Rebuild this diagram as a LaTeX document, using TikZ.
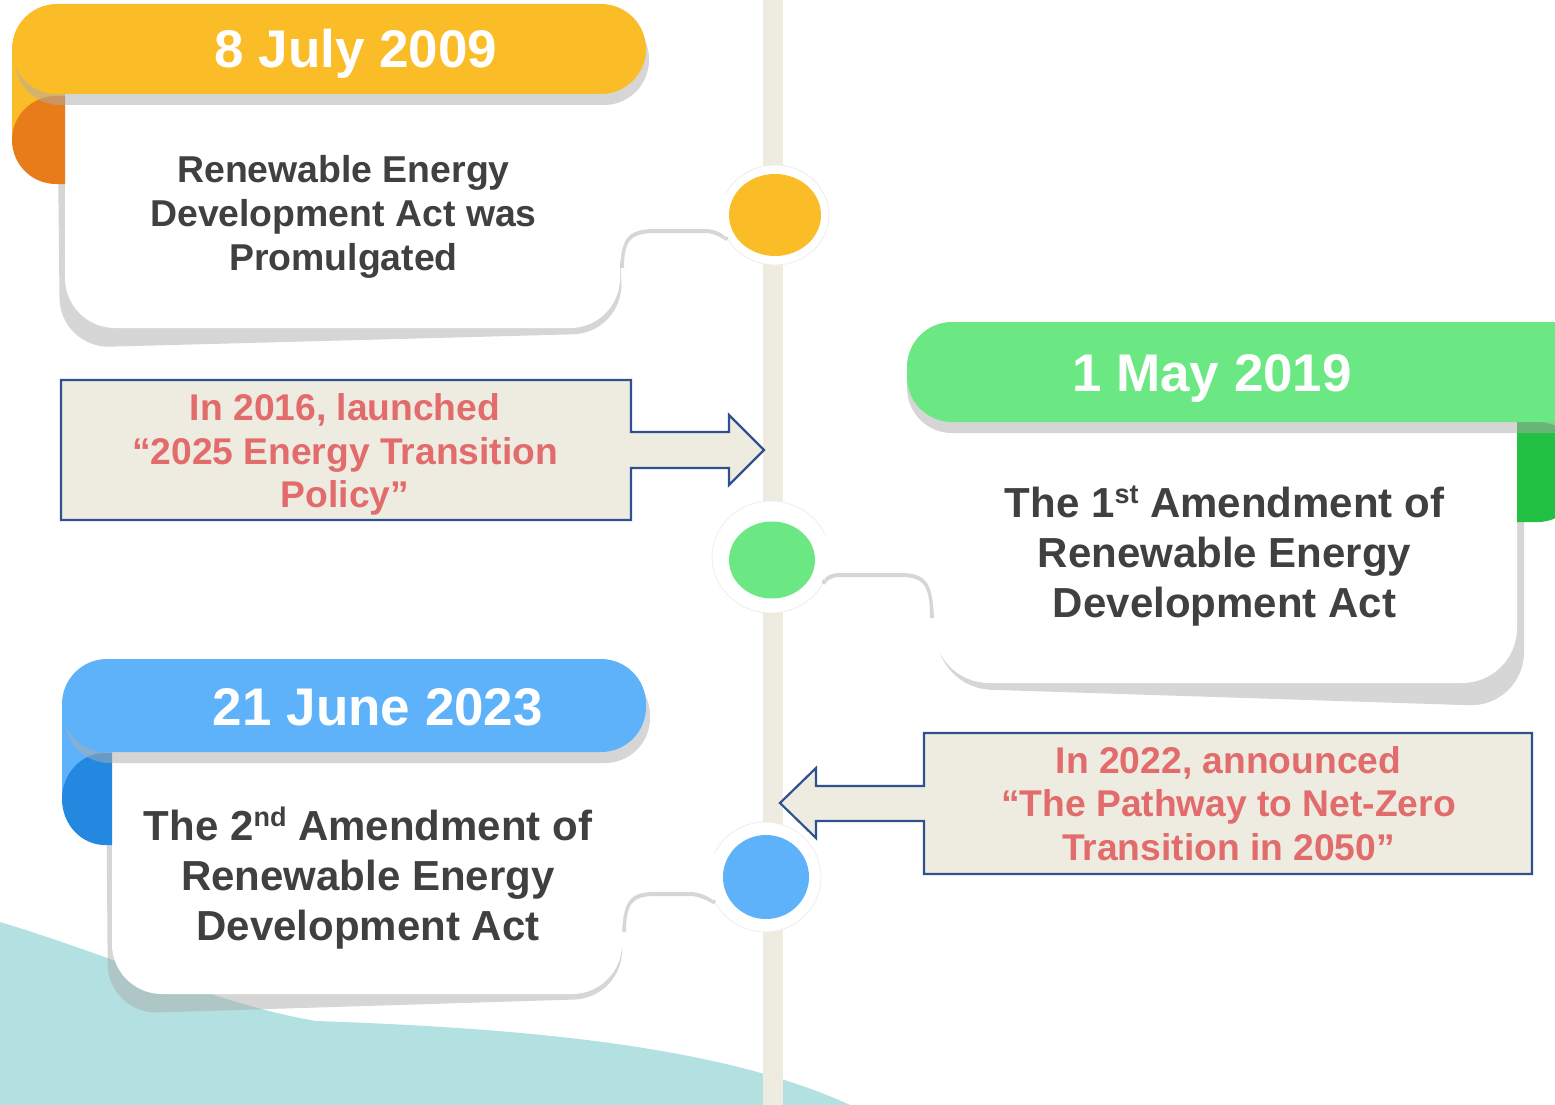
\documentclass[tikz,border=0pt]{standalone}
\usepackage{fontspec}
\setmainfont{Liberation Sans}
\usetikzlibrary{shapes.geometric}
\definecolor{julyyellow}{RGB}{251,189,39}
\definecolor{julyorange}{RGB}{233,124,26}
\definecolor{maygreen}{RGB}{107,232,131}
\definecolor{maydark}{RGB}{34,193,68}
\definecolor{juneblue}{RGB}{94,178,250}
\definecolor{junedark}{RGB}{36,136,224}
\definecolor{timeline}{RGB}{238,235,225}
\definecolor{wave}{RGB}{179,224,224}
\definecolor{shadowgrey}{RGB}{173,173,173}
\definecolor{cardgrey}{RGB}{64,64,64}
\definecolor{callfill}{RGB}{238,235,225}
\definecolor{callline}{RGB}{47,82,143}
\definecolor{callred}{RGB}{226,107,107}
\newcommand\sups[1]{\raisebox{0.33em}{\fontsize{27}{27}\selectfont #1}}
\begin{document}
\begin{tikzpicture}[x=1pt, y=-1pt,
    shade/.style={fill=shadowgrey, fill opacity=0.5},
    neckline/.style={draw=shadowgrey, draw opacity=0.5, line width=4pt},
    halo/.style={ellipse, fill=white, draw=black!7, line width=0.8pt, inner sep=0pt},
    dot/.style={ellipse, inner sep=0pt},
    datetext/.style={text=white, anchor=base, inner sep=0pt, font=\bfseries\fontsize{53}{60}\selectfont},
    cardtext/.style n args={2}{text=cardgrey, align=center, inner sep=0pt, font=\bfseries\fontsize{#1}{#2}\selectfont},
    callbox/.style={fill=callfill, draw=callline, line width=2.2pt, line join=miter},
    calltext/.style={text=callred, align=center, inner sep=0pt, font=\bfseries\fontsize{37.2}{43.5}\selectfont}]
    \useasboundingbox (0,0) rectangle (1555,1105);
    \clip (0,0) rectangle (1555,1105);
    \fill[wave] (0,922) .. controls (110,955) and (220,1005) .. (316,1021)
        .. controls (520,1028) and (720,1045) .. (850,1105) -- (0,1105) -- cycle;
    \fill[timeline] (763,0) rectangle (783,1105);

    \draw[callbox] (61,380) -- (631,380) -- (631,432) -- (729,432) -- (729,415) -- (764,450)
        -- (729,485) -- (729,468) -- (631,468) -- (631,520) -- (61,520) -- cycle;
    \draw[callbox] (924,733) -- (1532,733) -- (1532,874) -- (924,874) -- (924,821) -- (816,821)
        -- (816,838) -- (780,803) -- (816,768) -- (816,786) -- (924,786) -- cycle;

    \fill[shade, rounded corners=50] (57,60) -- (60,348) -- (623,333) -- (614,60) -- cycle;
    \fill[white, rounded corners=50] (65,40) rectangle (620,328);
    \node[halo, minimum width=108, minimum height=100] (h1) at (775,215) {};
    \draw[neckline] (h1.207) .. controls (722,236) and (715,231) .. (705,231) -- (655,231)
        .. controls (628,231) and (622,241) .. (622,268);
    \fill[white] (600,140) -- (620,140) .. controls (620,190) and (628,200) .. (655,200) -- (705,200)
        .. controls (715,200) and (722,195) .. (h1.155) -- (h1.205) .. controls (722,233) and (715,228) .. (705,228)
        -- (655,228) .. controls (628,228) and (620,238) .. (620,275) -- (600,275) -- cycle;
    \node[dot, fill=julyyellow, minimum width=92, minimum height=82] (d1) at (775,215) {};
    \fill[julyyellow] (12,50) rectangle (65,140);
    \fill[julyorange] (65,96) -- (56,96) arc[start angle=270, end angle=90, x radius=44, y radius=44] -- (65,184) -- cycle;
    \fill[shade, rounded corners=45] (15,14) rectangle (649,105);
    \fill[julyyellow, rounded corners=45] (12,4) rectangle (646,94);

    \fill[shade, rounded corners=55] (938,380) -- (936,688) -- (1524,707) -- (1524,380) -- cycle;
    \fill[white, rounded corners=55] (934,360) rectangle (1517,683);
    \node[halo, minimum width=118, minimum height=112] (h2) at (771,557) {};
    \draw[neckline] (h2.-27) .. controls (824,580) and (830,575) .. (840,575) -- (900,575)
        .. controls (926,575) and (932,585) .. (932,618);
    \fill[white] (955,480) -- (934,480) .. controls (934,532) and (926,542) .. (900,542) -- (840,542)
        .. controls (830,542) and (824,537) .. (h2.25) -- (h2.-25) .. controls (824,577) and (830,572) .. (840,572)
        -- (900,572) .. controls (926,572) and (934,582) .. (934,625) -- (955,625) -- cycle;
    \node[dot, fill=maygreen, minimum width=86, minimum height=77] (d2) at (772,560) {};
    \fill[maygreen] (1517,370) rectangle (1600,470);
    \fill[maydark] (1517,422) -- (1538,422) arc[start angle=-90, end angle=90, x radius=45, y radius=50] -- (1517,522) -- cycle;
    \fill[shade, rounded corners=45] (907,333) rectangle (1600,433);
    \fill[maygreen, rounded corners=45] (907,322) rectangle (1600,422);

    \fill[shade, rounded corners=50] (106,740) -- (108,1014) -- (624,998) -- (614,740) -- cycle;
    \fill[white, rounded corners=50] (112,700) rectangle (622,994);
    \node[halo, minimum width=112, minimum height=110] (h3) at (765,877) {};
    \draw[neckline] (h3.207) .. controls (708,899) and (700,894) .. (690,894) -- (655,894)
        .. controls (630,894) and (624,904) .. (624,932);
    \fill[white] (600,800) -- (622,800) .. controls (622,852) and (630,862) .. (655,862) -- (690,862)
        .. controls (700,862) and (708,858) .. (h3.155) -- (h3.205) .. controls (708,896) and (700,891) .. (690,891)
        -- (655,891) .. controls (630,891) and (622,901) .. (622,940) -- (600,940) -- cycle;
    \node[dot, fill=juneblue, minimum width=86, minimum height=84] (d3) at (766,877) {};
    \fill[juneblue] (62,705) rectangle (112,800);
    \fill[junedark] (112,753) -- (105,753) arc[start angle=270, end angle=90, x radius=43, y radius=46] -- (112,845) -- cycle;
    \fill[shade, rounded corners=45] (65,670) rectangle (650,763);
    \fill[juneblue, rounded corners=45] (62,659) rectangle (646,752);

    \node[datetext] (d1date) at (356,68) {8 July 2009};
    \node[cardtext={37.4}{44}] (d1text) at (343.5,216.7) {Renewable Energy\\Development Act was\\Promulgated};
    \node[datetext] (d2date) at (1212,391) {1 May 2019};
    \node[cardtext={42}{50}] (d2text) at (1224.5,556) {The 1\sups{st} Amendment of\\Renewable Energy\\Development Act};
    \node[datetext] (d3date) at (378,725) {21 June 2023};
    \node[cardtext={42}{50}] (d3text) at (368,878) {The 2\sups{nd} Amendment of\\Renewable Energy\\Development Act};
    \node[calltext] (c1text) at (345,454.4) {In 2016, launched\\“2025 Energy Transition\\Policy”};
    \node[calltext] (c2text) at (1228.5,803.6) {In 2022, announced\\“The Pathway to Net-Zero\\Transition in 2050”};
\end{tikzpicture}
\end{document}
